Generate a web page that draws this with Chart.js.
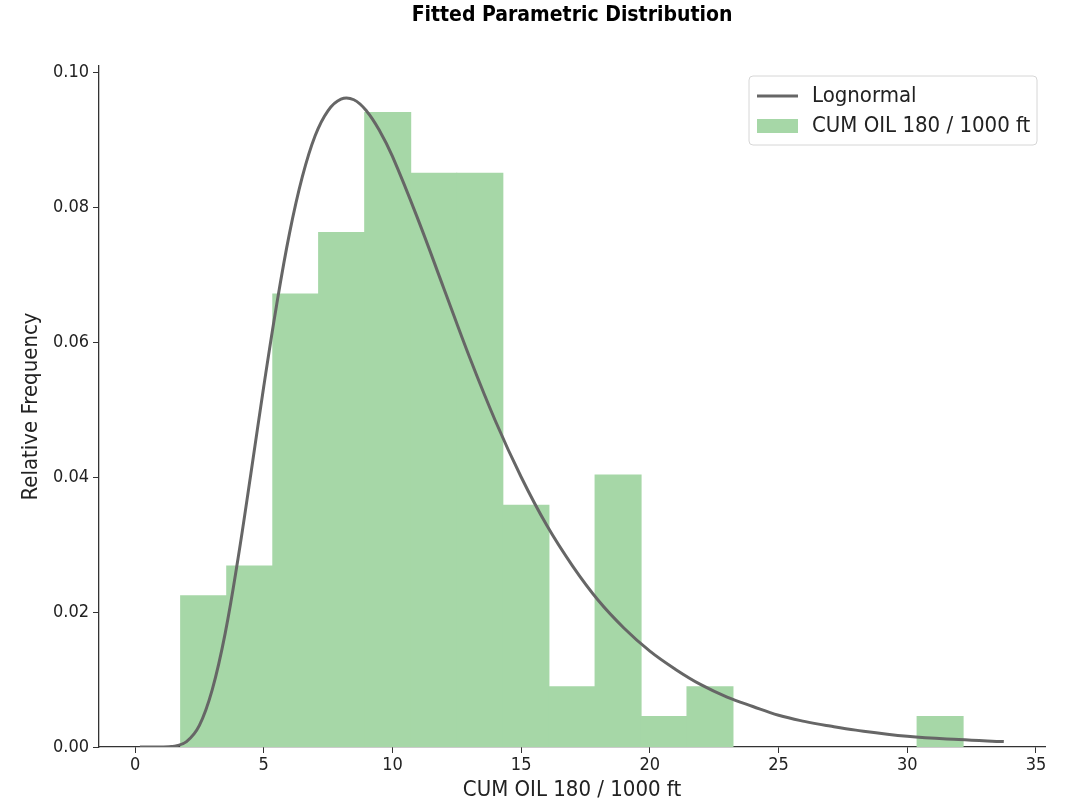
<!DOCTYPE html>
<html>
<head>
<meta charset="utf-8">
<script src="https://cdn.jsdelivr.net/npm/chart.js@4.4.1/dist/chart.umd.min.js"></script>
<style>
  html, body { margin: 0; padding: 0; background: #ffffff; }
  #wrap { width: 1076px; height: 806px; position: relative; }
</style>
</head>
<body>
<div id="wrap"><canvas id="c" width="1076" height="806"></canvas></div>
<script>
// ---- data ----
const chartTitle = 'Fitted Parametric Distribution';
const xLabel = 'CUM OIL 180 / 1000 ft';
const yLabel = 'Relative Frequency';
const lineLabel = 'Lognormal';
const barLabel = 'CUM OIL 180 / 1000 ft';

// histogram bins (left edges) and bin width
const binLefts = [1.77, 3.56, 5.35, 7.13, 8.92, 10.71, 12.50, 14.29, 16.08, 17.87, 19.65, 21.44, 23.23, 25.02, 26.81, 28.59, 30.38];
const binWidth = 1.79;
const binDensity = [0.0224, 0.0268, 0.0671, 0.0762, 0.0940, 0.0850, 0.0850, 0.0358, 0.0089, 0.0403, 0.0045, 0.0089, 0, 0, 0, 0, 0.0045];

// fitted lognormal curve
const curveX = [0.19, 1.0, 1.5, 2.0, 2.5, 3.0, 3.5, 4.0, 4.5, 5.0, 5.5, 6.0, 6.5, 7.0, 7.5, 8.0, 8.5, 9.0, 9.5, 10.0, 11.0, 12.0, 13.0, 14.0, 15.0, 16.0, 17.0, 18.0, 19.0, 20.0, 21.0, 22.0, 23.0, 24.0, 25.0, 26.0, 27.0, 28.0, 30.0, 32.0, 33.75];
const curveY = [0.0000, 0.0000, 0.0001, 0.0008, 0.0032, 0.0085, 0.0168, 0.0279, 0.0405, 0.0534, 0.0655, 0.0761, 0.0845, 0.0906, 0.0943, 0.0960, 0.0959, 0.0942, 0.0913, 0.0875, 0.0781, 0.0679, 0.0577, 0.0483, 0.0400, 0.0328, 0.0268, 0.0217, 0.0176, 0.0142, 0.0115, 0.0092, 0.0074, 0.0060, 0.0047, 0.0038, 0.0031, 0.0025, 0.0016, 0.0011, 0.0008];

// axes
const xTicks = [0, 5, 10, 15, 20, 25, 30, 35];
const yTicks = [0.00, 0.02, 0.04, 0.06, 0.08, 0.10];
const yTickLabels = ['0.00', '0.02', '0.04', '0.06', '0.08', '0.10'];
const xMin = -1.4, xMax = 35.35;
const yMin = 0, yMax = 0.1009;

// ---- styles ----
const FONT = "'DejaVu Sans Condensed', 'DejaVu Sans', sans-serif";
const barColor = '#a6d7a7';
const lineColor = '#666666';
const axisColor = '#333333';

// empty bins are kept in the data but drawn as no bar
const barData = binLefts.map((l, i) => ({ x: l + binWidth / 2, y: binDensity[i] === 0 ? null : binDensity[i] }));
const lineData = curveX.map((x, i) => ({ x: x, y: curveY[i] }));

const decor = {
  id: 'decor',
  afterDraw(chart) {
    const ctx = chart.ctx;
    const ca = chart.chartArea;
    ctx.save();
    ctx.fillStyle = '#000';
    // title
    ctx.font = 'bold 21px ' + FONT;
    ctx.textAlign = 'center';
    ctx.textBaseline = 'middle';
    ctx.fillText(chartTitle, (ca.left + ca.right) / 2, 16);
    // x label
    ctx.font = '22px ' + FONT;
    ctx.fillStyle = '#222';
    ctx.fillText(xLabel, (ca.left + ca.right) / 2, 790);
    // y label
    ctx.save();
    ctx.translate(31, (ca.top + ca.bottom) / 2);
    ctx.rotate(-Math.PI / 2);
    ctx.fillText(yLabel, 0, 0);
    ctx.restore();
    // legend
    const lx = 749, ly = 76, lw = 288, lh = 69, r = 4;
    ctx.beginPath();
    ctx.moveTo(lx + r, ly);
    ctx.lineTo(lx + lw - r, ly);
    ctx.quadraticCurveTo(lx + lw, ly, lx + lw, ly + r);
    ctx.lineTo(lx + lw, ly + lh - r);
    ctx.quadraticCurveTo(lx + lw, ly + lh, lx + lw - r, ly + lh);
    ctx.lineTo(lx + r, ly + lh);
    ctx.quadraticCurveTo(lx, ly + lh, lx, ly + lh - r);
    ctx.lineTo(lx, ly + r);
    ctx.quadraticCurveTo(lx, ly, lx + r, ly);
    ctx.closePath();
    ctx.fillStyle = 'rgba(255,255,255,0.8)';
    ctx.fill();
    ctx.strokeStyle = '#d6d6d6';
    ctx.lineWidth = 1;
    ctx.stroke();
    // line sample
    ctx.strokeStyle = lineColor;
    ctx.lineWidth = 3;
    ctx.beginPath();
    ctx.moveTo(757, 96);
    ctx.lineTo(798, 96);
    ctx.stroke();
    // patch sample
    ctx.fillStyle = barColor;
    ctx.fillRect(757, 119, 41, 14);
    ctx.fillStyle = '#222';
    ctx.font = '22px ' + FONT;
    ctx.textAlign = 'left';
    ctx.textBaseline = 'middle';
    ctx.fillText(lineLabel, 812, 96);
    ctx.fillText(barLabel, 812, 126);
    ctx.restore();
  }
};

new Chart(document.getElementById('c'), {
  data: {
    datasets: [
      {
        type: 'line',
        label: lineLabel,
        data: lineData,
        borderColor: lineColor,
        borderWidth: 3,
        pointRadius: 0,
        tension: 0.4,
        fill: false,
        order: 0
      },
      {
        type: 'bar',
        label: barLabel,
        data: barData,
        backgroundColor: barColor,
        borderWidth: 0,
        inflateAmount: 0.6,
        barPercentage: 1.0,
        categoryPercentage: 1.0,
        order: 1
      }
    ]
  },
  options: {
    responsive: false,
    animation: false,
    events: [],
    layout: { padding: { top: 66, right: 31, left: 0, bottom: 0 } },
    plugins: {
      legend: { display: false },
      title: { display: false },
      tooltip: { enabled: false }
    },
    scales: {
      x: {
        type: 'linear',
        min: xMin,
        max: xMax,
        offset: false,
        afterFit(scale) { scale.height = 59; },
        afterBuildTicks(scale) { scale.ticks = xTicks.map(v => ({ value: v })); },
        grid: { display: true, offset: false, drawOnChartArea: false, drawTicks: true, tickLength: 6, tickColor: axisColor, tickWidth: 1 },
        border: { display: true, color: axisColor, width: 1.3 },
        ticks: {
          autoSkip: false,
          maxRotation: 0,
          padding: 2,
          color: '#222',
          font: { family: FONT, size: 18 },
          callback: (v) => String(v)
        }
      },
      y: {
        type: 'linear',
        min: yMin,
        max: yMax,
        afterFit(scale) { scale.width = 99; },
        afterBuildTicks(scale) { scale.ticks = yTicks.map(v => ({ value: v })); },
        grid: { display: true, drawOnChartArea: false, drawTicks: true, tickLength: 6, tickColor: axisColor, tickWidth: 1 },
        border: { display: true, color: axisColor, width: 1.3 },
        ticks: {
          autoSkip: false,
          padding: 4,
          color: '#222',
          font: { family: FONT, size: 18 },
          callback: (v) => { const i = yTicks.findIndex(t => Math.abs(t - v) < 1e-9); return i >= 0 ? yTickLabels[i] : ''; }
        }
      }
    }
  },
  plugins: [decor]
});
</script>
</body>
</html>
